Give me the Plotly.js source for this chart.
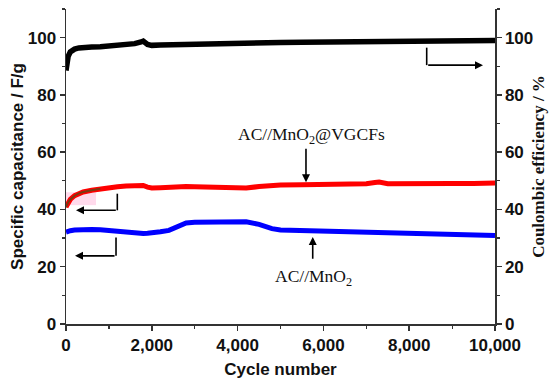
<!DOCTYPE html>
<html>
<head>
<meta charset="utf-8">
<script src="https://cdn.plot.ly/plotly-3.0.1.min.js"></script>
<style>html,body{margin:0;padding:0;background:#fff;}#chart{width:550px;height:383px;}</style>
</head>
<body>
<div id="chart"></div>
<script>
// Cycle numbers sampled along the curves
var cycles = [0, 50, 100, 200, 300, 400, 600, 800, 1000, 1200, 1400, 1600, 1750, 1800, 1900, 2000, 2200, 2400, 2600, 2800, 3000, 3500, 4000, 4200, 4500, 4800, 5000, 5500, 6000, 6500, 7000, 7200, 7300, 7500, 8000, 8500, 9000, 9500, 10000];
// Coulombic efficiency (%) - black, right axis
var coulombicEff = [88.5, 93.5, 95.0, 96.0, 96.4, 96.6, 96.7, 96.8, 97.0, 97.3, 97.6, 97.9, 98.5, 98.8, 97.6, 97.3, 97.4, 97.5, 97.6, 97.7, 97.8, 97.9, 98.0, 98.0, 98.1, 98.2, 98.3, 98.4, 98.5, 98.6, 98.7, 98.7, 98.8, 98.8, 98.9, 98.9, 99.0, 99.0, 99.0];
// Specific capacitance (F/g) AC//MnO2@VGCFs - red
var capVGCF = [40.8, 42.5, 43.5, 44.8, 45.6, 46.1, 46.7, 47.2, 47.6, 47.9, 48.2, 48.5, 48.6, 48.4, 47.8, 47.5, 47.6, 47.8, 47.9, 48.0, 47.9, 47.6, 47.4, 47.5, 48.0, 48.4, 48.5, 48.6, 48.7, 48.8, 49.0, 49.4, 49.6, 49.0, 48.9, 49.0, 49.1, 49.1, 49.2];
// Specific capacitance (F/g) AC//MnO2 - blue
var capMnO2 = [32.1, 32.4, 32.6, 32.8, 32.9, 33.0, 33.0, 32.9, 32.6, 32.2, 31.9, 31.7, 31.6, 31.6, 31.7, 31.8, 32.2, 32.7, 34.0, 35.3, 35.5, 35.7, 35.9, 35.7, 34.8, 33.3, 32.8, 32.6, 32.4, 32.1, 31.9, 31.8, 31.7, 31.6, 31.5, 31.3, 31.1, 31.0, 30.9];

var xTicks = [0, 2000, 4000, 6000, 8000, 10000];
var yTicks = [0, 20, 40, 60, 80, 100];

var tickFont = {family: 'Liberation Sans, Arial, sans-serif', size: 17, color: '#111', weight: 'bold'};
var axisColor = '#333';

var traces = [
  {x: cycles, y: capMnO2, mode: 'lines', line: {color: '#0000ff', width: 5}, hoverinfo: 'skip', showlegend: false},
  {x: cycles, y: capVGCF, mode: 'lines', line: {color: '#ff0000', width: 5}, hoverinfo: 'skip', showlegend: false},
  {x: cycles.slice(0, 8), y: capVGCF.slice(0, 8), mode: 'lines', line: {color: '#7a3a12', width: 2}, hoverinfo: 'skip', showlegend: false},
  {x: cycles, y: coulombicEff, yaxis: 'y2', mode: 'lines', line: {color: '#000000', width: 5.5}, hoverinfo: 'skip', showlegend: false}
];

var annFont = {family: 'Liberation Serif, Times New Roman, serif', size: 17.5, color: '#111'};
function arrow(x, y, ax, ay) {
  return {x: x, y: y, ax: ax, ay: ay, xref: 'x', yref: 'y', axref: 'x', ayref: 'y', text: '',
          showarrow: true, arrowhead: 2, arrowsize: 1, arrowwidth: 1.6, arrowcolor: '#000'};
}
function vline(x, y0, y1) {
  return {type: 'line', xref: 'x', yref: 'y', x0: x, x1: x, y0: y0, y1: y1, line: {color: '#000', width: 1.6}};
}

var layout = {
  width: 550, height: 383,
  margin: {l: 66, r: 55, t: 9, b: 59},
  paper_bgcolor: '#fff', plot_bgcolor: '#fff',
  xaxis: {
    range: [0, 10000], tickvals: xTicks, tickformat: ',d', showgrid: false, zeroline: false,
    showline: true, linecolor: axisColor, linewidth: 1.5, ticks: 'outside', ticklen: 5, tickwidth: 1.5, tickcolor: axisColor,
    minor: {dtick: 1000, ticks: 'outside', ticklen: 3, tickwidth: 1.2, tickcolor: axisColor},
    tickfont: tickFont,
    title: {text: 'Cycle number', font: {family: 'Liberation Sans, Arial, sans-serif', size: 17, color: '#111', weight: 'bold'}, standoff: 9}
  },
  yaxis: {
    range: [0, 110], tickvals: yTicks, showgrid: false, zeroline: false,
    showline: true, linecolor: axisColor, linewidth: 1.5, ticks: 'outside', ticklen: 5, tickwidth: 1.5, tickcolor: axisColor,
    minor: {dtick: 10, ticks: 'outside', ticklen: 3, tickwidth: 1.2, tickcolor: axisColor},
    tickfont: tickFont,
    title: {text: 'Specific capacitance / F/g', font: {family: 'Liberation Sans, Arial, sans-serif', size: 17, color: '#111', weight: 'bold'}, standoff: 0}
  },
  yaxis2: {
    overlaying: 'y', side: 'right', range: [0, 110], tickvals: yTicks, showgrid: false, zeroline: false,
    showline: true, linecolor: axisColor, linewidth: 1.5, ticks: 'outside', ticklen: 5, tickwidth: 1.5, tickcolor: axisColor,
    minor: {dtick: 10, ticks: 'outside', ticklen: 3, tickwidth: 1.2, tickcolor: axisColor},
    tickfont: tickFont,
    title: {text: 'Coulombic efficiency / %', font: {family: 'Liberation Serif, Times New Roman, serif', size: 17, color: '#111', weight: 'bold'}, standoff: 0}
  },
  shapes: [
    {type: 'rect', xref: 'x', yref: 'y', x0: 0, x1: 700, y0: 41.5, y1: 46, fillcolor: 'rgba(255,150,200,0.35)', line: {width: 0}, layer: 'below'},
    vline(1196, 45.5, 39.7),
    vline(1166, 30.2, 23.8),
    vline(8408, 96.5, 90.4)
  ],
  annotations: [
    arrow(233, 39.7, 1196, 39.7),
    arrow(210, 23.8, 1166, 23.8),
    arrow(9720, 90.4, 8408, 90.4),
    arrow(5594, 49.5, 5594, 61.7),
    arrow(5751, 30.4, 5751, 22.3),
    {x: 5734, y: 65.8, xref: 'x', yref: 'y', text: 'AC//MnO<sub>2</sub>@VGCFs', showarrow: false, font: annFont},
    {x: 5758, y: 16.4, xref: 'x', yref: 'y', text: 'AC//MnO<sub>2</sub>', showarrow: false, font: annFont}
  ]
};

Plotly.newPlot('chart', traces, layout, {staticPlot: true, displayModeBar: false});
</script>
</body>
</html>
